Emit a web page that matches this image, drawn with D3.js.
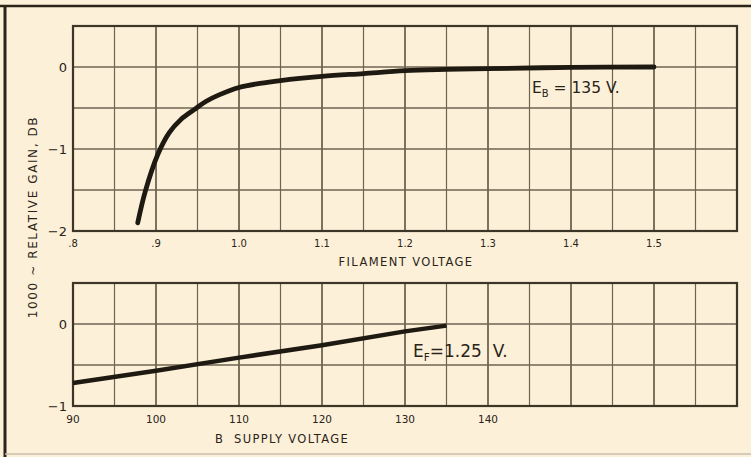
<!DOCTYPE html>
<html><head><meta charset="utf-8">
<script src="https://cdn.jsdelivr.net/npm/d3@7"></script>
<style>html,body{margin:0;padding:0;background:#fcf0d9;}svg{display:block;}</style>
</head><body>
<svg id="c" width="751" height="457"></svg>
<script>
// ---- data ----
const filamentVoltage = [0.878, 0.887, 0.902, 0.916, 0.93, 0.946, 0.96, 0.976, 1.0, 1.025, 1.05, 1.1, 1.15, 1.2, 1.25, 1.3, 1.4, 1.5];
const gainVsFilament  = [-1.90, -1.52, -1.07, -0.80, -0.64, -0.52, -0.42, -0.34, -0.25, -0.20, -0.165, -0.115, -0.08, -0.045, -0.03, -0.02, -0.005, 0];
const bSupplyVoltage  = [90, 100, 110, 120, 130, 135];
const gainVsBSupply   = [-0.72, -0.57, -0.41, -0.26, -0.09, -0.02];
const topXTicks = [0.8, 0.9, 1.0, 1.1, 1.2, 1.3, 1.4, 1.5];
const topXTickLabels = [".8", ".9", "1.0", "1.1", "1.2", "1.3", "1.4", "1.5"];
const topYTicks = [0, -1, -2];
const botXTicks = [90, 100, 110, 120, 130, 140];
const botYTicks = [0, -1];

const svg = d3.select("#c");
const ink = "#2a2418", grid = "#6e6450", font = "DejaVu Sans, sans-serif";

svg.append("rect").attr("width",751).attr("height",457).attr("fill","#fcf0d9");
// outer frame
svg.append("line").attr("x1",0).attr("x2",751).attr("y1",6).attr("y2",6).attr("stroke","#2b2519").attr("stroke-width",2.5);
svg.append("line").attr("x1",5).attr("x2",5).attr("y1",5).attr("y2",457).attr("stroke","#2b2519").attr("stroke-width",3);
svg.append("line").attr("x1",5).attr("x2",751).attr("y1",454).attr("y2",454).attr("stroke","#c9bfae").attr("stroke-width",1.5);

function panel(x, y, minorX, minorY, majorX) {
  const g = svg.append("g");
  const [x0,x1] = x.range(), [y0,y1] = y.range();
  minorX.forEach(v => g.append("line").attr("x1",x(v)).attr("x2",x(v)).attr("y1",y1).attr("y2",y0)
     .attr("stroke",grid).attr("stroke-width", majorX(v) ? 1.8 : 1.2));
  minorY.forEach(v => g.append("line").attr("x1",x0).attr("x2",x1).attr("y1",y(v)).attr("y2",y(v))
     .attr("stroke",grid).attr("stroke-width",1.6));
  g.append("rect").attr("x",x0).attr("y",y1).attr("width",x1-x0).attr("height",y0-y1)
     .attr("fill","none").attr("stroke","#3d3626").attr("stroke-width",2.2);
  return g;
}

// ---- top panel ----
const xT = d3.scaleLinear().domain([0.8,1.6]).range([73,737]);
const yT = d3.scaleLinear().domain([-2,0.5]).range([231,26]);
panel(xT, yT, d3.range(0,17).map(i=>0.8+i*0.05), d3.range(0,6).map(i=>-2+i*0.5), v=>Math.abs(Math.round(v*20))%2===0);
svg.append("path").datum(filamentVoltage.map((v,i)=>[v,gainVsFilament[i]]))
  .attr("d", d3.line().x(d=>xT(d[0])).y(d=>yT(d[1])).curve(d3.curveCatmullRom.alpha(0.5)))
  .attr("fill","none").attr("stroke","#1e1a12").attr("stroke-width",4.8).attr("stroke-linecap","round");
svg.selectAll(".tx").data(topXTicks).join("text").attr("x",d=>xT(d)).attr("y",247)
  .attr("text-anchor","middle").attr("font-family",font).attr("font-size",10).attr("fill",ink)
  .text((d,i)=>topXTickLabels[i]);
svg.selectAll(".ty").data(topYTicks).join("text").attr("x",67).attr("y",d=>yT(d)+4.5)
  .attr("text-anchor","end").attr("font-family",font).attr("font-size",13).attr("fill",ink)
  .text(d=>d===0?"0":"\u2212"+Math.abs(d));
svg.append("text").attr("x",406).attr("y",266).attr("text-anchor","middle").attr("font-family",font)
  .attr("font-size",11.5).attr("letter-spacing",1.4).attr("fill",ink).text("FILAMENT VOLTAGE");
const ann1 = svg.append("text").attr("x",532).attr("y",93).attr("font-family",font).attr("font-size",15.5).attr("fill",ink);
ann1.append("tspan").text("E");
ann1.append("tspan").attr("font-size",10).attr("dy",4).text("B");
ann1.append("tspan").attr("dy",-4).text(" = 135 V.");

// ---- bottom panel ----
const xB = d3.scaleLinear().domain([90,170]).range([73,737]);
const yB = d3.scaleLinear().domain([-1,0.5]).range([406,283]);
panel(xB, yB, d3.range(0,17).map(i=>90+i*5), d3.range(0,4).map(i=>-1+i*0.5), v=>v%10===0);
svg.append("path").datum(bSupplyVoltage.map((v,i)=>[v,gainVsBSupply[i]]))
  .attr("d", d3.line().x(d=>xB(d[0])).y(d=>yB(d[1])))
  .attr("fill","none").attr("stroke","#1e1a12").attr("stroke-width",4.5);
svg.selectAll(".bx").data(botXTicks).join("text").attr("x",d=>xB(d)).attr("y",423)
  .attr("text-anchor","middle").attr("font-family",font).attr("font-size",10.5).attr("fill",ink).text(d=>d);
svg.selectAll(".by").data(botYTicks).join("text").attr("x",67).attr("y",d=>yB(d)+4.5)
  .attr("text-anchor","end").attr("font-family",font).attr("font-size",13).attr("fill",ink)
  .text(d=>d===0?"0":"\u2212"+Math.abs(d));
svg.append("text").attr("x",282).attr("y",443).attr("text-anchor","middle").attr("font-family",font)
  .attr("font-size",11.5).attr("letter-spacing",1.3).attr("fill",ink).attr("xml:space","preserve").text("B  SUPPLY VOLTAGE");
const ann2 = svg.append("text").attr("x",413).attr("y",357).attr("font-family",font).attr("font-size",17).attr("fill",ink)
  .attr("xml:space","preserve");
ann2.append("tspan").text("E");
ann2.append("tspan").attr("font-size",10.5).attr("dy",4).text("F");
ann2.append("tspan").attr("dy",-4).text("=1.25  V.");

// ---- shared y label ----
svg.append("text").attr("transform","translate(37,217) rotate(-90)").attr("text-anchor","middle")
  .attr("font-family",font).attr("font-size",12).attr("letter-spacing",1.6).attr("fill",ink)
  .text("1000 ~ RELATIVE GAIN, DB");
</script>
</body></html>
